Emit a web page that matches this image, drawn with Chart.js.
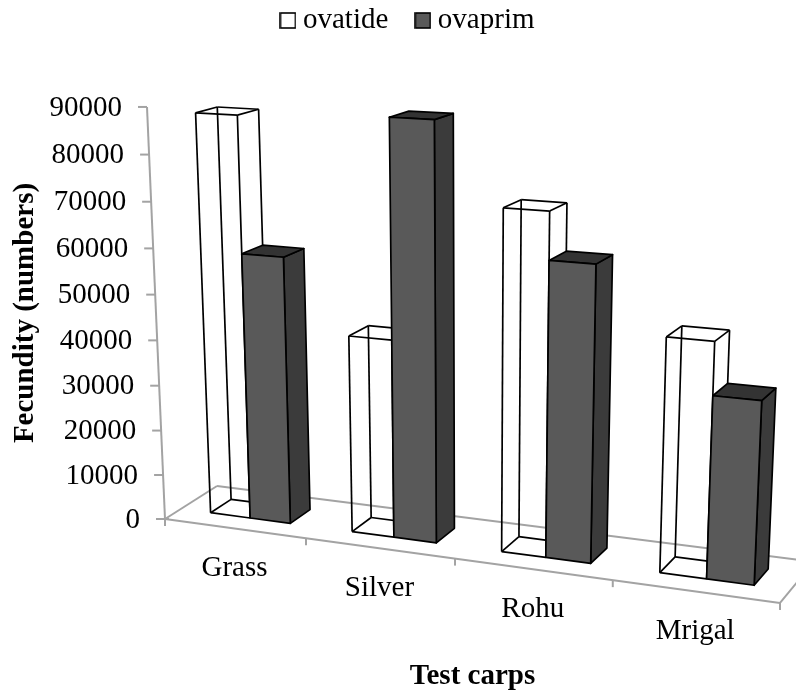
<!DOCTYPE html>
<html>
<head>
<meta charset="utf-8">
<script src="https://cdn.jsdelivr.net/npm/chart.js@4"></script>
<style>
html, body { margin: 0; padding: 0; background: #fff; }
canvas { display: block; }
</style>
</head>
<body>
<canvas id="chart-area" width="796" height="694"></canvas>
<script>
var categories = ["Grass", "Silver", "Rohu", "Mrigal"];
var ovatide = [88200, 43000, 72500, 49000];
var ovaprim = [58700, 89500, 62500, 38000];
var seriesNames = ["ovatide", "ovaprim"];

var FONT = "'Liberation Serif', 'Times New Roman', serif";
var SIZE = 29;
var AXIS = "#a3a3a3";

// perspective of the old 3D plot: u, v are 0-1 across the chart area, w is depth
function project(chart, px, py, w) {
    var a = chart.chartArea;
    var u = (px - a.left) / (a.right - a.left);
    var v = (a.bottom - py) / (a.bottom - a.top);
    var d = 1 - 0.1076 * u - 0.0435 * v + 0.05 * w;
    return [
        (165 + 531.1 * u - 24.4 * v + 8 * u * v + 62.85 * w + 8 * u * w) / d,
        (519 + 19.1 * u - 416.7 * v - 8.7 * w) / d
    ];
}

function line(ctx, a, b) {
    ctx.beginPath();
    ctx.moveTo(a[0], a[1]);
    ctx.lineTo(b[0], b[1]);
    ctx.stroke();
}

function face(ctx, pts, fill) {
    ctx.beginPath();
    ctx.moveTo(pts[0][0], pts[0][1]);
    for (var i = 1; i < pts.length; i++) ctx.lineTo(pts[i][0], pts[i][1]);
    ctx.closePath();
    ctx.fillStyle = fill;
    ctx.fill();
    ctx.stroke();
}

function text(ctx, str, x, y, align, font) {
    ctx.font = font;
    ctx.fillStyle = "#000";
    ctx.textAlign = align;
    ctx.textBaseline = "middle";
    ctx.fillText(str, x, y);
}

function legendBox(fill) {
    var c = document.createElement("canvas");
    c.width = 17;
    c.height = 17;
    var g = c.getContext("2d");
    g.fillStyle = fill;
    g.fillRect(1, 1, 15, 15);
    g.strokeStyle = "#000";
    g.lineWidth = 1.6;
    g.strokeRect(1, 1, 15, 15);
    return c;
}
var legendBoxes = [legendBox("#ffffff"), legendBox("#595959")];

var frame3d = {
    id: "frame3d",
    beforeDatasetsDraw: function(chart) {
        var ctx = chart.ctx, a = chart.chartArea;
        var xs = chart.scales.x, ys = chart.scales.y;
        var o = project(chart, a.left, a.bottom, 0);
        var r = project(chart, a.right, a.bottom, 0);
        var t = project(chart, a.left, a.top, 0);
        var ob = project(chart, a.left, a.bottom, 1);
        var rb = project(chart, a.right, a.bottom, 1);
        ctx.save();
        ctx.strokeStyle = AXIS;
        ctx.lineWidth = 2;
        line(ctx, o, t);
        line(ctx, o, r);
        line(ctx, o, ob);
        line(ctx, ob, rb);
        line(ctx, r, rb);

        ys.ticks.forEach(function(tick) {
            var p = project(chart, a.left, ys.getPixelForValue(tick.value), 0);
            line(ctx, [p[0] - 9, p[1]], [p[0], p[1]]);
            text(ctx, String(tick.value), p[0] - 25, p[1] + 1, "right", SIZE + "px " + FONT);
        });
        line(ctx, o, [o[0] + 4, o[1]]);

        var step = xs.getPixelForValue(1) - xs.getPixelForValue(0);
        categories.forEach(function(name, i) {
            var mid = xs.getPixelForValue(i);
            var p = project(chart, mid - step / 2, a.bottom, 0);
            line(ctx, p, [p[0], p[1] + 7]);
            var c = project(chart, mid, a.bottom, 0);
            text(ctx, name, c[0], c[1] + 40, "center", SIZE + "px " + FONT);
        });
        line(ctx, r, [r[0], r[1] + 7]);

        text(ctx, "Test carps", (o[0] + r[0]) / 2, 677, "center", "bold " + SIZE + "px " + FONT);
        ctx.translate(26, 313);
        ctx.rotate(-Math.PI / 2);
        text(ctx, "Fecundity (numbers)", 0, 0, "center", "bold " + SIZE + "px " + FONT);
        ctx.restore();
    },
    afterDatasetsDraw: function(chart) {
        var ctx = chart.ctx;
        var w0 = 0.3, w1 = 0.7;
        ctx.save();
        ctx.lineJoin = "round";
        ctx.strokeStyle = "#000";
        ctx.lineWidth = 1.7;
        categories.forEach(function(name, i) {
            [0, 1].forEach(function(d) {
                var bar = chart.getDatasetMeta(d).data[i];
                var l = bar.x - bar.width / 2, r = bar.x + bar.width / 2;
                var fbl = project(chart, l, bar.base, w0), fbr = project(chart, r, bar.base, w0);
                var ftl = project(chart, l, bar.y, w0), ftr = project(chart, r, bar.y, w0);
                var bbl = project(chart, l, bar.base, w1), bbr = project(chart, r, bar.base, w1);
                var btl = project(chart, l, bar.y, w1), btr = project(chart, r, bar.y, w1);
                if (d === 0) {
                    // wire box, hidden edges show
                    [[fbl, fbr], [fbr, bbr], [bbr, bbl], [bbl, fbl],
                     [ftl, ftr], [ftr, btr], [btr, btl], [btl, ftl],
                     [fbl, ftl], [fbr, ftr], [bbl, btl], [bbr, btr]].forEach(function(e) {
                        line(ctx, e[0], e[1]);
                    });
                } else {
                    face(ctx, [fbr, bbr, btr, ftr], "#3b3b3b");
                    face(ctx, [ftl, ftr, btr, btl], "#333333");
                    face(ctx, [fbl, fbr, ftr, ftl], "#595959");
                }
            });
        });
        ctx.restore();
    }
};

var ctx = document.getElementById("chart-area").getContext("2d");
var myChart = new Chart(ctx, {
    type: "bar",
    data: {
        labels: categories,
        datasets: [
            { label: seriesNames[0], data: ovatide, backgroundColor: "rgba(0,0,0,0)", borderWidth: 0 },
            { label: seriesNames[1], data: ovaprim, backgroundColor: "rgba(0,0,0,0)", borderWidth: 0 }
        ]
    },
    plugins: [frame3d],
    options: {
        responsive: false,
        animation: false,
        devicePixelRatio: 1,
        categoryPercentage: 0.57,
        barPercentage: 1,
        layout: { padding: { top: -28, left: 26, right: 0, bottom: 0 } },
        scales: {
            x: { display: false },
            y: { display: false, min: 0, max: 90000, ticks: { stepSize: 10000 } }
        },
        plugins: {
            tooltip: { enabled: false },
            legend: {
                position: "top",
                labels: {
                    color: "#000",
                    font: { family: FONT, size: SIZE },
                    usePointStyle: true,
                    pointStyleWidth: 1,
                    padding: 34,
                    generateLabels: function(chart) {
                        var items = Chart.defaults.plugins.legend.labels.generateLabels(chart);
                        items.forEach(function(item, i) { item.pointStyle = legendBoxes[i]; });
                        return items;
                    }
                }
            }
        }
    }
});
</script>
</body>
</html>
